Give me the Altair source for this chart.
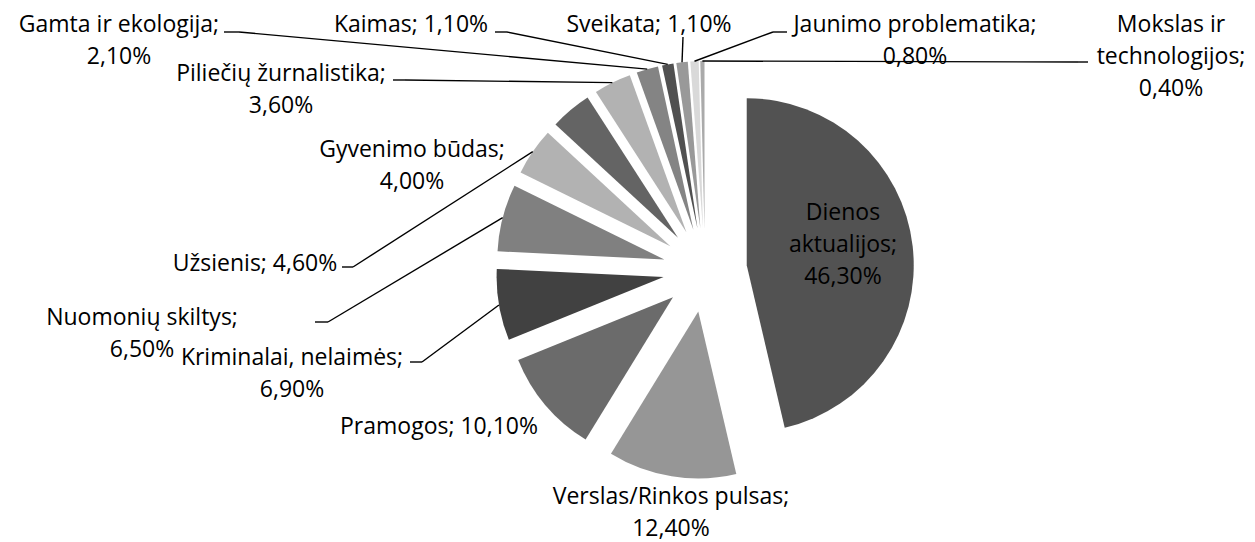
import altair as alt
import pandas as pd

# ---------------- data ----------------
categories = [
    "Dienos aktualijos", "Verslas/Rinkos pulsas", "Pramogos",
    "Kriminalai, nelaimės", "Nuomonių skiltys", "Užsienis",
    "Gyvenimo būdas", "Piliečių žurnalistika", "Gamta ir ekologija",
    "Kaimas", "Sveikata", "Jaunimo problematika", "Mokslas ir technologijos",
]
values = [46.3, 12.4, 10.1, 6.9, 6.5, 4.6, 4.0, 3.6, 2.1, 1.1, 1.1, 0.8, 0.4]

# ---------------- style ----------------
colors = ["#525252", "#969696", "#6b6b6b", "#414141", "#808080", "#b2b2b2",
          "#646464", "#b2b2b2", "#848484", "#505050", "#999999", "#d9d9d9", "#aaaaaa"]

W, H = 1239, 534
CX, CY = 697, 262      # pie centre (px)
R = 167                # pie radius (px)
D = 42                 # explosion distance (px)
LH = 32                # label line height
FONT = "Open Sans"
FS = 23

# label layout: anchor (centre of first line), wrap mode, leader (x0, x1, y) label-side
LABEL_LAYOUT = {
    "Dienos aktualijos":        dict(x=835, y=205, wrap=3, lead=None),
    "Verslas/Rinkos pulsas":    dict(x=663, y=489, wrap=2, lead=None),
    "Pramogos":                 dict(x=431, y=419, wrap=1, lead=None),
    "Kriminalai, nelaimės":     dict(x=284, y=350, wrap=2, lead=(402, 414, 354)),
    "Nuomonių skiltys":         dict(x=134, y=310, wrap=2, lead=(307, 320, 314)),
    "Užsienis":                 dict(x=247, y=256, wrap=1, lead=(334, 345, 259)),
    "Gyvenimo būdas":           dict(x=404, y=142, wrap=2, lead=None),
    "Piliečių žurnalistika":    dict(x=273, y=66, wrap=2, lead=(385, 397, 72)),
    "Gamta ir ekologija":       dict(x=111, y=17, wrap=2, lead=(216, 231, 24)),
    "Kaimas":                   dict(x=403, y=17, wrap=1, lead=(487, 499, 24)),
    "Sveikata":                 dict(x=641, y=17, wrap=1, lead=(675, 675, 29)),
    "Jaunimo problematika":     dict(x=907, y=17, wrap=2, lead=(779, 765, 24)),
    "Mokslas ir technologijos": dict(x=1163, y=17, wrap=3, lead=(1080, 1070, 54)),
}


def pct_text(v):
    return f"{v:.2f}".replace(".", ",") + "%"


def label_lines(cat, v):
    mode = LABEL_LAYOUT[cat]["wrap"]
    p = pct_text(v)
    if mode == 1:
        return [f"{cat}; {p}"]
    if mode == 2:
        return [f"{cat};", p]
    a, b = cat.rsplit(" ", 1)
    return [a, f"{b};", p]


rows = []
for i, (c, v) in enumerate(zip(categories, values)):
    lead = LABEL_LAYOUT[c]["lead"]
    rows.append(dict(category=c, value=v, order=i,
                     lx0=lead[0] if lead else None,
                     lx1=lead[1] if lead else None,
                     ly=lead[2] if lead else None))
df = pd.DataFrame(rows)

text_rows = []
for c, v in zip(categories, values):
    lay = LABEL_LAYOUT[c]
    for j, t in enumerate(label_lines(c, v)):
        text_rows.append(dict(category=c, line=j, text=t, tx=lay["x"], ty0=lay["y"]))
tdf = pd.DataFrame(text_rows)

base = (
    alt.Chart(df)
    .transform_joinaggregate(total="sum(value)")
    .transform_window(cum="sum(value)", sort=[alt.SortField("order")])
    .transform_calculate(t0="(datum.cum - datum.value) / datum.total * 2 * PI")
    .transform_calculate(t1="datum.cum / datum.total * 2 * PI")
    .transform_calculate(mid="(datum.t0 + datum.t1) / 2")
    .transform_calculate(cx=f"{CX} + {D} * sin(datum.mid)")
    .transform_calculate(cy=f"{CY} - {D} * cos(datum.mid)")
    .transform_calculate(ex=f"{CX} + {D + R} * sin(datum.mid)")
    .transform_calculate(ey=f"{CY} - {D + R} * cos(datum.mid)")
)

arcs = base.mark_arc(radius=R).encode(
    theta=alt.Theta("t0:Q", scale=None, stack=False),
    theta2="t1:Q",
    x=alt.X("cx:Q", scale=None, axis=None),
    y=alt.Y("cy:Q", scale=None, axis=None),
    color=alt.Color("category:N", scale=alt.Scale(domain=categories, range=colors), legend=None),
)

leaders = base.transform_filter("isValid(datum.ly)")

diag = leaders.mark_rule(color="black", strokeWidth=1.4).encode(
    x=alt.X("lx1:Q", scale=None, axis=None),
    y=alt.Y("ly:Q", scale=None, axis=None),
    x2="ex:Q",
    y2="ey:Q",
)
horiz = leaders.mark_rule(color="black", strokeWidth=1.4).encode(
    x=alt.X("lx0:Q", scale=None, axis=None),
    x2="lx1:Q",
    y=alt.Y("ly:Q", scale=None, axis=None),
)

texts = (
    alt.Chart(tdf)
    .transform_calculate(ty=f"datum.ty0 + datum.line * {LH}")
    .mark_text(font=FONT, fontSize=FS, color="black", align="center", baseline="middle")
    .encode(
        x=alt.X("tx:Q", scale=None, axis=None),
        y=alt.Y("ty:Q", scale=None, axis=None),
        text="text:N",
    )
)

chart = (
    alt.layer(arcs, horiz, diag, texts)
    .properties(width=W, height=H, padding=0, background="white",
                autosize=alt.AutoSizeParams(type="none"))
    .configure_view(strokeWidth=0)
)

chart.save("out.html", embed_options={"renderer": "svg", "actions": False})
